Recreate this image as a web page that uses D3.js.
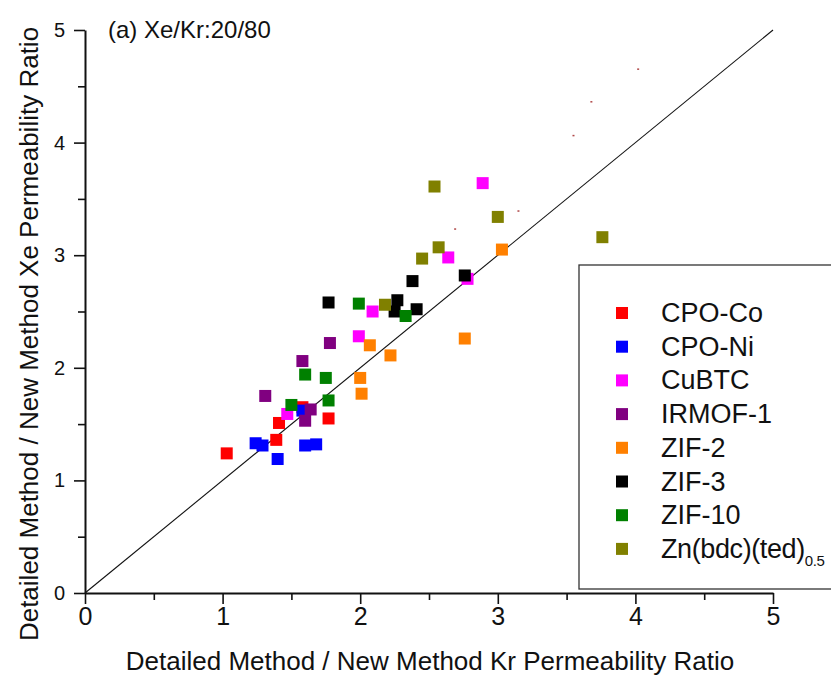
<!DOCTYPE html>
<html>
<head>
<meta charset="utf-8">
<script src="https://cdn.jsdelivr.net/npm/d3@7"></script>
<style>
	body{ margin:0; background:#fff; }
	svg{ display:block; font-family:"Liberation Sans", Arial, sans-serif; }
</style>
</head>
<body>
<div id="chart"></div>
<script>
// values: [Kr ratio, Xe ratio]
var cpoCo   = [[1.03,1.24],[1.39,1.36],[1.41,1.51],[1.58,1.65],[1.77,1.55]];
var cpoNi   = [[1.24,1.33],[1.29,1.31],[1.40,1.19],[1.58,1.62],[1.60,1.31],[1.68,1.32]];
var cuBTC   = [[1.47,1.59],[1.99,2.28],[2.09,2.50],[2.64,2.98],[2.78,2.79],[2.89,3.64]];
var irmof1  = [[1.31,1.75],[1.58,2.06],[1.60,1.53],[1.64,1.63],[1.78,2.22]];
var zif2    = [[2.00,1.91],[2.01,1.77],[2.07,2.20],[2.22,2.11],[2.76,2.26],[3.03,3.05]];
var zif3    = [[1.77,2.58],[2.25,2.50],[2.27,2.60],[2.38,2.77],[2.41,2.52],[2.76,2.82]];
var zif10   = [[1.50,1.67],[1.60,1.94],[1.75,1.91],[1.77,1.71],[1.99,2.57],[2.33,2.46]];
var znBdc   = [[2.18,2.56],[2.45,2.97],[2.54,3.61],[2.57,3.07],[3.00,3.34],[3.76,3.16]];
var strayPts = [[2.69,3.23],[3.15,3.39],[3.55,4.06],[3.68,4.36],[4.02,4.65]];

var seriesNames  = ["CPO-Co","CPO-Ni","CuBTC","IRMOF-1","ZIF-2","ZIF-3","ZIF-10","Zn(bdc)(ted)"];
var seriesColors = ["#ff0000","#0000ff","#ff00ff","#800080","#ff8000","#000000","#008000","#808000"];
var seriesData   = [cpoCo, cpoNi, cuBTC, irmof1, zif2, zif3, zif10, znBdc];

var xTicks = [0,1,2,3,4,5];
var yTicks = [0,1,2,3,4,5];
var minorTicks = [0.5,1.5,2.5,3.5,4.5];

(function(){
	'use strict'
	var W = 831, H = 677;
	var svg = d3.select("#chart").append("svg")
				.attr("width", W)
				.attr("height", H);

	var x = d3.scaleLinear().domain([0,5]).range([85,773]),
		y = d3.scaleLinear().domain([0,5]).range([593,30]);

	// y = x reference line
	svg.append("line")
		.attr("x1", x(0)).attr("y1", y(0))
		.attr("x2", x(5)).attr("y2", y(5))
		.attr("stroke", "#111")
		.attr("stroke-width", 1.1);

	// legend box (drawn before markers, clipped by the window on the right)
	var lg = svg.append("g").attr("class", "legend");
	lg.append("rect")
		.attr("x", 579).attr("y", 265)
		.attr("width", 300).attr("height", 324)
		.attr("fill", "#fff")
		.attr("stroke", "#333")
		.attr("stroke-width", 1.3);

	// markers
	var ms = 12;
	seriesData.forEach(function(pts, i){
		svg.append("g").attr("class", "series s"+i)
			.selectAll("rect")
			.data(pts)
			.enter().append("rect")
			.attr("x", function(d){ return x(d[0]) - ms/2; })
			.attr("y", function(d){ return y(d[1]) - ms/2; })
			.attr("width", ms)
			.attr("height", ms)
			.attr("fill", seriesColors[i]);
	});

	svg.append("g").attr("class", "stray")
		.selectAll("rect")
		.data(strayPts)
		.enter().append("rect")
		.attr("x", function(d){ return x(d[0]) - 1; })
		.attr("y", function(d){ return y(d[1]) - 1; })
		.attr("width", 2).attr("height", 1.5)
		.attr("fill", "#b04848");

	// axes
	var fmt = d3.format("d");
	svg.append("g")
		.attr("class", "x axis")
		.attr("transform", "translate(0," + y(0) + ")")
		.call(d3.axisBottom(x).tickValues(xTicks).tickSize(11).tickSizeOuter(0).tickPadding(3).tickFormat(fmt))
		.selectAll(".tick text").style("font-size", "25px");
	svg.append("g")
		.attr("class", "x minor")
		.attr("transform", "translate(0," + y(0) + ")")
		.call(d3.axisBottom(x).tickValues(minorTicks).tickSize(7).tickSizeOuter(0).tickFormat(""))
		.select(".domain").remove();

	svg.append("g")
		.attr("class", "y axis")
		.attr("transform", "translate(" + x(0) + ",0)")
		.call(d3.axisLeft(y).tickValues(yTicks).tickSize(11).tickSizeOuter(0).tickPadding(9).tickFormat(fmt))
		.selectAll(".tick text").style("font-size", "20px");
	svg.append("g")
		.attr("class", "y minor")
		.attr("transform", "translate(" + x(0) + ",0)")
		.call(d3.axisLeft(y).tickValues(minorTicks).tickSize(7).tickSizeOuter(0).tickFormat(""))
		.select(".domain").remove();

	svg.selectAll(".axis .domain").attr("stroke", "#111").attr("stroke-width", 2);
	svg.selectAll(".axis .tick line, .minor .tick line").attr("stroke", "#111").attr("stroke-width", 1.6);
	svg.selectAll(".axis .tick text")
		.attr("fill", "#111")
		.style("font-family", "'Liberation Sans', Arial, sans-serif");

	// axis titles
	svg.append("text")
		.attr("x", 430).attr("y", 670)
		.attr("text-anchor", "middle")
		.style("font-size", "26px")
		.attr("fill", "#111")
		.text("Detailed Method / New Method Kr Permeability Ratio");

	svg.append("text")
		.attr("transform", "translate(38,334) rotate(-90)")
		.attr("text-anchor", "middle")
		.style("font-size", "26px")
		.attr("fill", "#111")
		.text("Detailed Method / New Method Xe Permeability Ratio");

	svg.append("text")
		.attr("x", 108).attr("y", 38)
		.style("font-size", "24px")
		.attr("fill", "#111")
		.text("(a) Xe/Kr:20/80");

	// legend entries
	var rows = lg.selectAll(".row")
				.data(seriesNames)
				.enter().append("g")
				.attr("class", "row")
				.attr("transform", function(d, i){ return "translate(0," + (313 + i*33.7) + ")"; });
	rows.append("rect")
		.attr("x", 616).attr("y", -6)
		.attr("width", 12).attr("height", 12)
		.attr("fill", function(d, i){ return seriesColors[i]; });
	var lt = rows.append("text")
		.attr("x", 661).attr("y", 9)
		.style("font-size", "27px")
		.attr("fill", "#111")
		.text(function(d){ return d; });
	lt.filter(function(d, i){ return i === seriesNames.length - 1; })
		.style("letter-spacing", "-0.4px")
		.append("tspan")
		.attr("dy", 8)
		.style("font-size", "15px")
		.text("0.5");
})();
</script>
</body>
</html>
